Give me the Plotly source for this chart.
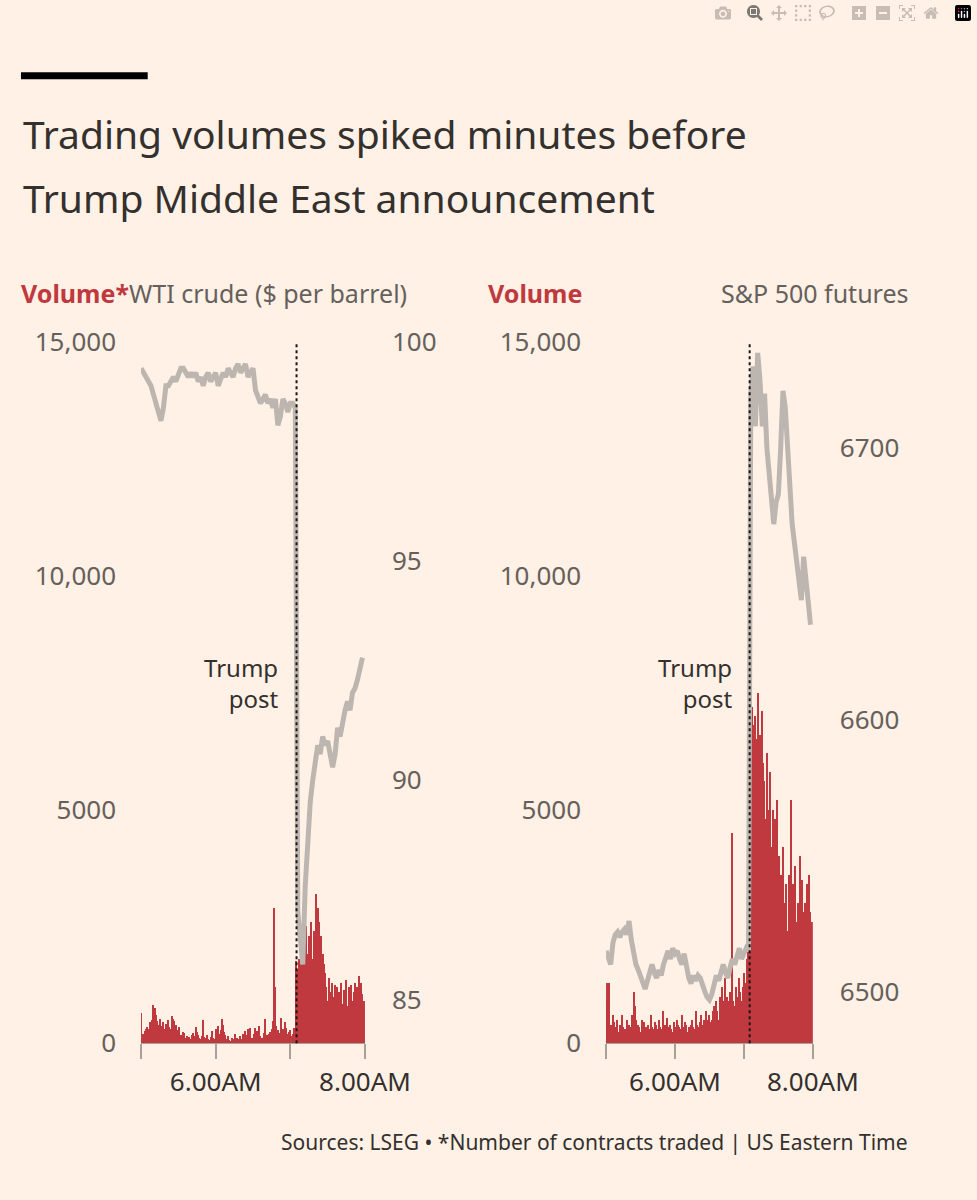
import numpy as np
import plotly.graph_objects as go

# minute volumes 5:00 .. 7:59 (US Eastern), WTI crude
wti_volume = [
    650, 120, 200, 260, 300, 350, 300, 450, 380, 500, 820, 760, 600, 480, 400, 520, 380, 360, 450, 300,
    420, 380, 500, 350, 300, 580, 520, 480, 400, 280, 200, 350, 180, 150, 250, 220, 120, 160, 80, 140,
    100, 180, 220, 160, 350, 240, 180, 120, 90, 160, 500, 140, 120, 180, 100, 80, 140, 260, 120, 90,
    300, 240, 360, 200, 280, 530, 400, 250, 180, 90, 160, 80, 60, 120, 100, 70, 200, 110, 80, 90,
    150, 100, 200, 120, 260, 180, 300, 140, 330, 120, 100, 200, 320, 260, 220, 380, 160, 120, 90, 220,
    520, 180, 140, 200, 250, 300, 480, 2900, 1200, 380, 280, 220, 180, 540, 300, 160, 450, 320, 200, 250,
    280, 160, 200, 330, 250,
    1750, 1600, 1800, 1650, 1900, 1700, 1500, 1800, 2500, 1900, 2300, 2100, 2600, 1800, 2400, 2000, 3200, 2900, 2600, 2200,
    2300, 1900, 1700, 1500, 1200, 900, 1400, 1100, 800, 1300, 1000, 1250, 900, 1200, 1100, 950, 1300, 850, 1150, 1000,
    1350, 800, 1200, 1000, 1250, 900, 1100, 1300, 1000, 1200, 1450, 1100, 1300, 1050, 900,
]

# WTI price every 2 minutes from 5:00
wti_price = [
    99.4, 99.3, 99.2, 99.1, 99.0, 98.8, 98.6, 98.4, 98.2, 98.5, 99.0, 99.0, 99.1, 99.2, 99.1, 99.3, 99.4, 99.4, 99.3, 99.2,
    99.3, 99.2, 99.3, 99.1, 99.2, 99.0, 99.2, 99.3, 99.1, 99.2, 99.3, 99.0, 99.2, 99.3, 99.2, 99.4, 99.3, 99.2, 99.4, 99.5,
    99.3, 99.4, 99.5, 99.2, 99.3, 99.4, 98.9, 98.7, 98.6, 98.7, 98.8, 98.6, 98.7, 98.5, 98.7, 98.1, 98.3, 98.7, 98.6, 98.4,
    98.6, 98.6, 98.5, 87.0, 86.2, 85.8, 87.6, 88.6, 89.5, 90.0, 90.4, 90.8, 90.6, 91.0, 90.8, 90.9, 90.6, 90.3, 90.6, 91.2,
    91.0, 91.4, 91.6, 91.8, 91.6, 92.0, 92.1, 92.3, 92.5, 92.8,
]

# minute volumes, S&P 500 futures
spx_volume = [
    900, 1300, 700, 1300, 400, 300, 600, 450, 300, 350, 500, 250, 400, 300, 600, 350, 200, 300, 500, 250,
    400, 300, 350, 600, 1100, 800, 500, 300, 400, 350, 250, 500, 300, 450, 300, 350, 250, 400, 300, 600,
    350, 250, 300, 450, 400, 300, 500, 350, 300, 250, 700, 400, 300, 550, 350, 300, 400, 300, 250, 450,
    350, 300, 500, 400, 350, 300, 600, 350, 300, 450, 400, 250, 350, 300, 400, 500, 350, 300, 700, 400,
    350, 300, 450, 600, 400, 500, 350, 700, 500, 400, 600, 450, 500, 700, 800, 600, 900, 700, 500, 1000,
    800, 1200, 900, 700, 1400, 1000, 600, 900, 1100, 700, 4500, 900, 800, 1200, 900, 1000, 1400, 1100, 900, 1200,
    1500, 1300, 1100, 1800, 2000,
    13600, 6000, 7200, 5500, 6800, 7000, 6500, 7500, 5800, 6600, 5400, 7100, 6000, 5600, 4800, 6200, 5000, 4400, 5800, 4200,
    5000, 4600, 4800, 3800, 5200, 3200, 4000, 3600, 2800, 4200, 3000, 2600, 3400, 2400, 3600, 3000, 5200, 2800, 3400, 2200,
    3800, 2600, 3000, 2400, 4000, 3200, 3500, 2800, 3000, 2600, 3400, 2500, 3600, 2800, 2600,
]

spx_price = [
    6515, 6512, 6510, 6518, 6521, 6522, 6520, 6522, 6523, 6521, 6526, 6519, 6514, 6510, 6508, 6506, 6503, 6501, 6504, 6508,
    6510, 6507, 6505, 6508, 6506, 6510, 6513, 6515, 6512, 6516, 6514, 6515, 6512, 6510, 6514, 6508, 6505, 6503, 6506, 6504,
    6506, 6505, 6502, 6500, 6498, 6497, 6499, 6503, 6506, 6504, 6508, 6510, 6507, 6505, 6509, 6512, 6510, 6513, 6516, 6512,
    6514, 6516, 6515, 6720, 6730, 6708, 6735, 6725, 6708, 6720, 6700, 6690, 6685, 6672, 6680, 6683, 6700, 6721, 6715, 6700,
    6690, 6672, 6665, 6658, 6650, 6644, 6660, 6652, 6640, 6635,
]

bar_hours = 5 + np.arange(180) / 60
price_hours = 5 + np.arange(0, 180, 2) / 60
post_hour = 7 + 5 / 60

BG = "#FFF1E5"
RED = "#C0393F"
GREY_LINE = "#BDB6B0"
TXT = "#33302E"
MUTED = "#66605C"
FONT = "Noto Sans"
W, H = 977, 1200

fig = go.Figure()
fig.add_trace(go.Bar(x=bar_hours, y=wti_volume, width=1 / 60, marker=dict(color=RED, line_width=0),
                     xaxis="x", yaxis="y"))
fig.add_trace(go.Scatter(x=price_hours, y=wti_price, mode="lines", line=dict(color=GREY_LINE, width=5),
                         xaxis="x", yaxis="y2"))
fig.add_trace(go.Bar(x=bar_hours, y=spx_volume, width=1 / 60, marker=dict(color=RED, line_width=0),
                     xaxis="x2", yaxis="y3"))
fig.add_trace(go.Scatter(x=price_hours, y=spx_price, mode="lines", line=dict(color=GREY_LINE, width=5),
                         xaxis="x2", yaxis="y4"))

ydom = [1 - 1056 / H, 1 - 333 / H]
xax = dict(range=[5, 8], tickvals=[5, 6, 7, 8], ticktext=["", "6.00AM", "", "8.00AM"],
           ticks="outside", ticklen=15, tickwidth=2, tickcolor="#A7A19A", showline=True,
           linecolor="#A7A19A", linewidth=1, showgrid=False, zeroline=False,
           tickfont=dict(size=26, color=TXT, family=FONT))
vol = dict(range=[0, 15000], tickvals=[0, 5000, 10000, 15000], ticktext=["0", "5000", "10,000", "15,000"],
           showgrid=False, zeroline=False, ticks="", ticklabelstandoff=24,
           tickfont=dict(size=26, color=MUTED, family=FONT), domain=ydom)
price = dict(showgrid=False, zeroline=False, ticks="", side="right", ticklabelstandoff=26,
             tickfont=dict(size=26, color=MUTED, family=FONT))

fig.update_layout(
    width=W, height=H, paper_bgcolor=BG, plot_bgcolor=BG, showlegend=False, bargap=0,
    margin=dict(l=0, r=0, t=0, b=0),
    xaxis=dict(xax, domain=[148 / W, 383 / W], anchor="y"),
    xaxis2=dict(xax, domain=[636 / W, 853 / W], anchor="y3"),
    yaxis=dict(vol, anchor="x"),
    yaxis2=dict(price, overlaying="y", anchor="x", range=[84, 100], tickvals=[85, 90, 95, 100]),
    yaxis3=dict(vol, anchor="x2"),
    yaxis4=dict(price, overlaying="y3", anchor="x2", range=[6481, 6739], tickvals=[6500, 6600, 6700]),
)

for xr, yr in [("x", "y"), ("x2", "y3")]:
    fig.add_shape(type="line", xref=xr, yref=yr + " domain", x0=post_hour, x1=post_hour, y0=0, y1=1,
                  line=dict(color="#1A1817", width=2, dash="dot"))
    fig.add_annotation(xref=xr, yref=yr, x=6.86, y=7700, text="Trump<br>post", showarrow=False,
                       xanchor="right", align="right", font=dict(size=24, color=TXT, family=FONT))

fig.add_shape(type="rect", xref="paper", yref="paper", x0=22 / W, x1=155 / W, y0=1 - 62 / H, y1=1 - 55 / H,
              fillcolor="#000000", line_width=0)

def txt(x, y, s, size, color, anchor="left"):
    fig.add_annotation(xref="paper", yref="paper", x=x / W, y=1 - y / H, text=s, showarrow=False,
                       xanchor=anchor, yanchor="middle", font=dict(size=size, color=color, family=FONT))

txt(22, 118, "Trading volumes spiked minutes before", 39, TXT)
txt(22, 184, "Trump Middle East announcement", 39, TXT)
txt(20, 282, "<b>Volume*</b>", 25, RED)
txt(133, 282, "WTI crude ($ per barrel)", 25, MUTED)
txt(510, 282, "<b>Volume</b>", 25, RED)
txt(955, 282, "S&P 500 futures", 25, MUTED, "right")
txt(955, 1158, "Sources: LSEG • *Number of contracts traded | US Eastern Time", 21, TXT, "right")

# drop the default page margin so the 977x1200 figure fills the window exactly
fig.write_html("out.html", post_script="document.body.style.margin='0';document.body.style.overflow='hidden';")
